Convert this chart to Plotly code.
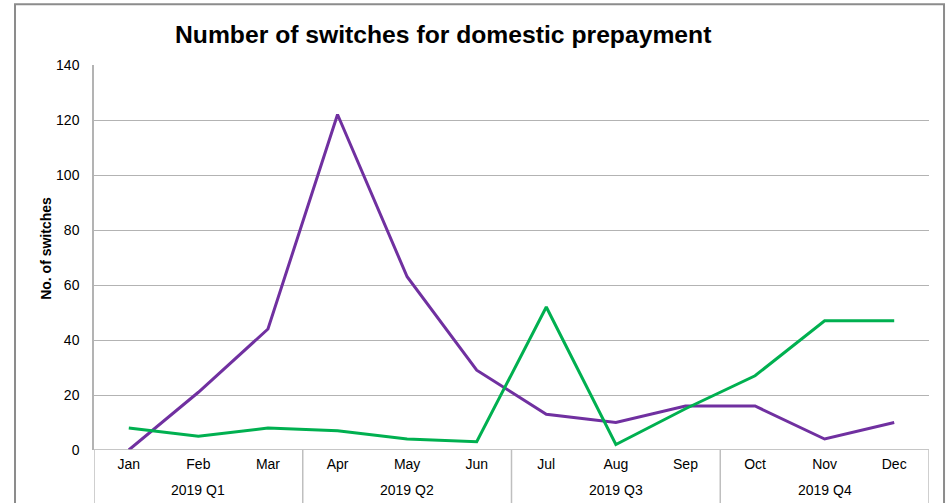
import plotly.graph_objects as go

months = ["Jan", "Feb", "Mar", "Apr", "May", "Jun", "Jul", "Aug", "Sep", "Oct", "Nov", "Dec"]
quarters = ["2019 Q1", "2019 Q2", "2019 Q3", "2019 Q4"]
purple_series = [0, 21, 44, 122, 63, 29, 13, 10, 16, 16, 4, 10]
green_series = [8, 5, 8, 7, 4, 3, 52, 2, 15, 27, 47, 47]
y_ticks = [0, 20, 40, 60, 80, 100, 120, 140]

FONT = "Liberation Sans, Arial, sans-serif"
x_idx = list(range(len(months)))

fig = go.Figure()
fig.add_trace(go.Scatter(x=x_idx, y=purple_series, mode="lines",
                         line=dict(color="#7030A0", width=3), showlegend=False))
fig.add_trace(go.Scatter(x=x_idx, y=green_series, mode="lines",
                         line=dict(color="#00B050", width=3), showlegend=False))

shapes = []
# quarter dividers
for k in range(len(quarters) + 1):
    xv = -0.5 + 3 * k
    shapes.append(dict(type="line", xref="x", yref="paper", x0=xv, x1=xv, y0=0, y1=-0.16,
                       line=dict(color="#BFBFBF", width=1.5)))
# outer frame
shapes.append(dict(type="rect", xref="paper", yref="paper", x0=-0.0946, x1=1.018,
                   y0=-0.2, y1=1.158, line=dict(color="#8c8c8c", width=2), layer="below"))

annotations = []
for qi, q in enumerate(quarters):
    annotations.append(dict(x=3 * qi + 1, y=-0.104, xref="x", yref="paper", text=q,
                            showarrow=False, font=dict(family=FONT, size=14, color="#000"),
                            yanchor="middle"))
annotations.append(dict(x=0.418, y=1.078, xref="paper", yref="paper",
                        text="<b>Number of switches for domestic prepayment</b>",
                        showarrow=False, font=dict(family=FONT, size=24.7, color="#000"),
                        xanchor="center", yanchor="middle"))
annotations.append(dict(x=-0.0575, y=0.525, xref="paper", yref="paper",
                        text="<b>No. of switches</b>", textangle=-90,
                        showarrow=False, font=dict(family=FONT, size=14, color="#000"),
                        xanchor="center", yanchor="middle"))

fig.update_layout(
    width=947, height=503,
    margin=dict(l=94, r=18, t=65, b=53),
    paper_bgcolor="white", plot_bgcolor="white",
    shapes=shapes, annotations=annotations,
    xaxis=dict(range=[-0.5, 11.5], tickmode="array", tickvals=x_idx, ticktext=months,
               showgrid=False, zeroline=False, showline=False, ticks="", automargin=False,
               ticklabelstandoff=4,
               tickfont=dict(family=FONT, size=14, color="#000")),
    yaxis=dict(range=[0, 140], tickmode="array", tickvals=y_ticks, automargin=False,
               showgrid=True, gridcolor="#B3B3B3", gridwidth=1, zeroline=False,
               showline=True, linecolor="#B3B3B3", linewidth=1.5, ticks="",
               ticklabelstandoff=10,
               tickfont=dict(family=FONT, size=14, color="#000")),
)
fig.add_hline(y=0, line=dict(color="#B3B3B3", width=1.5))

fig.write_html(
    "out.html",
    config={"displayModeBar": False},
    post_script="document.body.style.margin='0';document.body.style.overflow='hidden';",
)
